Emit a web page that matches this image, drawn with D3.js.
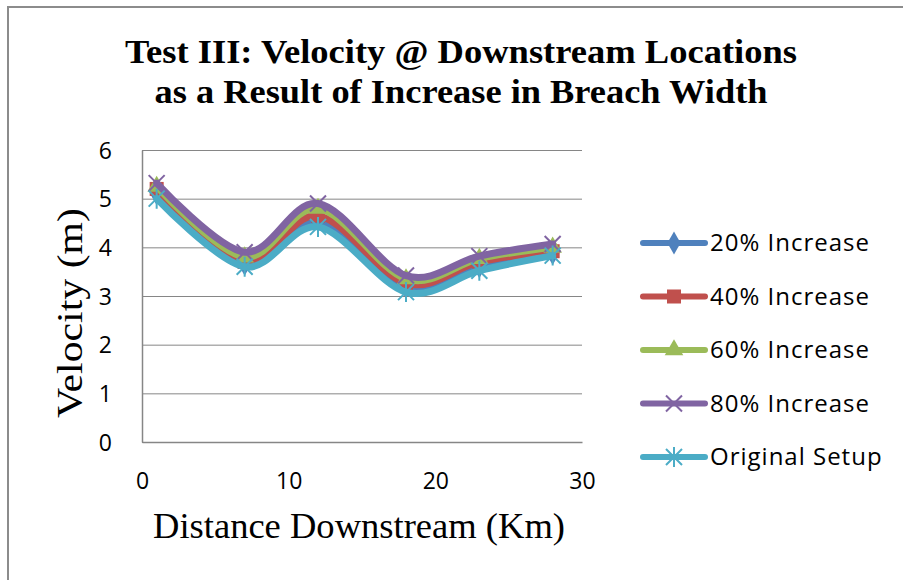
<!DOCTYPE html>
<html>
<head>
<meta charset="utf-8">
<script src="https://cdn.jsdelivr.net/npm/d3@7"></script>
<style>
  body { margin: 0; background: #fff; }
  svg { display: block; }
</style>
</head>
<body>
<svg id="chart"></svg>
<script>
// Data
const distance = [1, 7, 12, 18, 23, 28];
const increase20 = [5.1, 3.65, 4.55, 3.18, 3.6, 3.87];
const increase40 = [5.2, 3.7, 4.65, 3.26, 3.7, 3.92];
const increase60 = [5.25, 3.8, 4.8, 3.35, 3.77, 4.0];
const increase80 = [5.32, 3.9, 4.9, 3.42, 3.82, 4.07];
const originalSetup = [5.0, 3.6, 4.42, 3.08, 3.52, 3.83];
const seriesNames = ["20% Increase", "40% Increase", "60% Increase", "80% Increase", "Original Setup"];
const xTicks = [0, 10, 20, 30];
const yTicks = [0, 1, 2, 3, 4, 5, 6];

const series = [
    { name: seriesNames[0], values: increase20, color: "#4F81BD", marker: "diamond" },
    { name: seriesNames[1], values: increase40, color: "#C0504D", marker: "square" },
    { name: seriesNames[2], values: increase60, color: "#9BBB59", marker: "triangle" },
    { name: seriesNames[3], values: increase80, color: "#8064A2", marker: "x" },
    { name: seriesNames[4], values: originalSetup, color: "#4BACC6", marker: "star" }
];

const width = 903, height = 580;
const margin = { top: 150, left: 142, right: 321, bottom: 138 };
const innerW = width - margin.left - margin.right;
const innerH = height - margin.top - margin.bottom;

const sansFont = "'Open Sans', Lato, sans-serif";
const serifFont = "'Liberation Serif', 'Times New Roman', serif";

const svg = d3.select("#chart").attr("width", width).attr("height", height);

// chart border (runs off the right and bottom of the picture)
svg.append("rect")
    .attr("x", 8).attr("y", 7)
    .attr("width", 920).attr("height", 600)
    .attr("fill", "none")
    .attr("stroke", "#8c8c8c")
    .attr("stroke-width", 2);

// Title
const title = svg.append("text")
    .attr("text-anchor", "middle")
    .style("font-family", serifFont)
    .style("font-weight", "bold")
    .style("font-size", "34px")
    .attr("fill", "#000");
title.append("tspan").attr("x", 461).attr("y", 63)
    .attr("textLength", 672).attr("lengthAdjust", "spacingAndGlyphs")
    .text("Test III: Velocity @ Downstream Locations");
title.append("tspan").attr("x", 461).attr("y", 103)
    .attr("textLength", 613).attr("lengthAdjust", "spacingAndGlyphs")
    .text("as a Result of Increase in Breach Width");

const xScale = d3.scaleLinear().domain([0, 30]).range([0, innerW]);
const yScale = d3.scaleLinear().domain([0, 6]).range([innerH, 0]);

const g = svg.append("g").attr("transform", `translate(${margin.left},${margin.top})`);

// gridlines
g.append("g")
    .attr("class", "grid")
    .call(d3.axisLeft(yScale).tickValues(yTicks).tickSize(-innerW).tickFormat(""))
    .call(s => s.select(".domain").remove())
    .call(s => s.selectAll("line").attr("stroke", "#868686").attr("stroke-width", 1));

// axes
const xAxis = g.append("g")
    .attr("transform", `translate(0,${innerH})`)
    .call(d3.axisBottom(xScale).tickValues(xTicks).tickFormat(d3.format("d")).tickSize(0).tickPadding(31));
const yAxis = g.append("g")
    .call(d3.axisLeft(yScale).tickValues(yTicks).tickFormat(d3.format("d")).tickSize(0).tickPadding(30));

[xAxis, yAxis].forEach(a => {
    a.select(".domain").attr("stroke", "#868686").attr("stroke-width", 1.5);
    a.selectAll("text")
        .style("font-family", sansFont)
        .style("font-size", "23px")
        .attr("fill", "#000");
});
yAxis.selectAll("text").attr("text-anchor", "end").attr("dy", "0.36em");

// axis titles
svg.append("text")
    .attr("x", 359).attr("y", 538)
    .attr("text-anchor", "middle")
    .style("font-family", serifFont)
    .style("font-size", "36px")
    .attr("textLength", 412).attr("lengthAdjust", "spacingAndGlyphs")
    .text("Distance Downstream (Km)");

svg.append("text")
    .attr("transform", "translate(82,313) rotate(-90)")
    .attr("text-anchor", "middle")
    .style("font-family", serifFont)
    .style("font-size", "36px")
    .attr("textLength", 210).attr("lengthAdjust", "spacingAndGlyphs")
    .text("Velocity (m)");

// markers
function drawMarker(sel, type, color) {
    if (type === "diamond") {
        sel.append("path").attr("d", d3.symbol(d3.symbolDiamond, 150)()).attr("fill", color);
    } else if (type === "square") {
        sel.append("rect").attr("x", -7).attr("y", -7).attr("width", 14).attr("height", 14).attr("fill", color);
    } else if (type === "triangle") {
        sel.append("path").attr("d", d3.symbol(d3.symbolTriangle, 150)()).attr("fill", color);
    } else if (type === "x") {
        sel.append("path").attr("d", "M-8,-8L8,8M-8,8L8,-8")
            .attr("stroke", color).attr("stroke-width", 2).attr("fill", "none");
    } else if (type === "star") {
        sel.append("path").attr("d", "M-8,-8L8,8M-8,8L8,-8M0,-10L0,10")
            .attr("stroke", color).attr("stroke-width", 2).attr("fill", "none");
    }
}

const line = d3.line()
    .x(d => xScale(d[0]))
    .y(d => yScale(d[1]))
    .curve(d3.curveCatmullRom.alpha(0));

series.forEach(s => {
    const pts = distance.map((x, i) => [x, s.values[i]]);
    const sg = g.append("g");
    sg.append("path")
        .datum(pts)
        .attr("d", line)
        .attr("fill", "none")
        .attr("stroke", s.color)
        .attr("stroke-width", 7)
        .attr("stroke-linecap", "round")
        .attr("stroke-linejoin", "round");
    sg.selectAll(".pt")
        .data(pts)
        .enter()
        .append("g")
        .attr("class", "pt")
        .attr("transform", d => `translate(${xScale(d[0])},${yScale(d[1])})`)
        .each(function () { drawMarker(d3.select(this), s.marker, s.color); });
});

// legend
const legend = svg.append("g").attr("transform", "translate(643,243)");
series.forEach((s, i) => {
    const lg = legend.append("g").attr("transform", `translate(0,${i * 53.5})`);
    lg.append("line")
        .attr("x1", 0).attr("x2", 62)
        .attr("stroke", s.color).attr("stroke-width", 6)
        .attr("stroke-linecap", "round");
    drawMarker(lg.append("g").attr("transform", "translate(31,0)"), s.marker, s.color);
    lg.append("text")
        .attr("x", 67).attr("dy", "0.35em")
        .style("font-family", sansFont)
        .style("font-size", "24px")
        .style("letter-spacing", "1px")
        .attr("fill", "#000")
        .text(s.name);
});
</script>
</body>
</html>
